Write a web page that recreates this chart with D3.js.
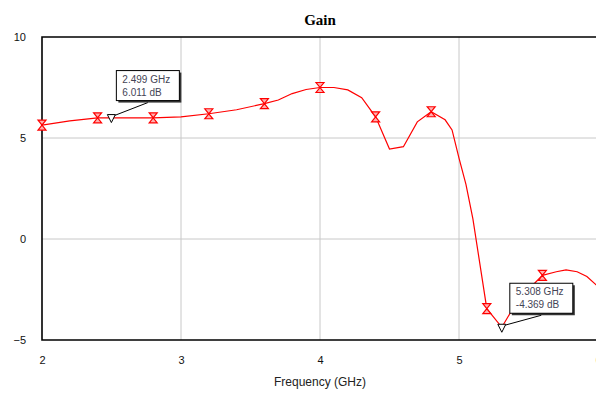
<!DOCTYPE html>
<html>
<head>
<meta charset="utf-8">
<script src="https://cdn.jsdelivr.net/npm/d3@7"></script>
<style>
body{margin:0;background:#fff;}
svg{display:block;font-family:Arial,"Liberation Sans",sans-serif;}
</style>
</head>
<body>
<div id="chart"></div>
<script>
// gain curve
var freq=[2.0,2.2,2.4,2.6,2.8,3.0,3.2,3.4,3.6,3.7,3.8,3.9,4.0,4.1,4.2,4.3,4.4,4.5,4.6,4.7,4.8,4.9,4.95,5.0,5.05,5.1,5.2,5.308,5.4,5.5,5.6,5.7,5.77,5.85,5.92,6.0];
var gain=[5.64,5.85,6.0,6.0,6.0,6.05,6.2,6.4,6.7,6.88,7.2,7.4,7.5,7.5,7.38,7.0,6.05,4.45,4.57,5.8,6.3,5.9,5.4,4.0,2.7,1.0,-3.45,-4.369,-3.3,-2.5,-1.8,-1.62,-1.53,-1.62,-1.86,-2.35];
var markerFreqs=[2.0,2.4,2.8,3.2,3.6,4.0,4.4,4.8,5.2,5.6];
var xTicks=[2,3,4,5,6];
var yTicks=[-5,0,5,10];
var notes=[{f:2.499,g:6.011,label:['2.499 GHz','6.011 dB'],dx:5,dy:-47},
           {f:5.308,g:-4.369,label:['5.308 GHz','-4.369 dB'],dx:8,dy:-44}];

var W=596,H=394;
var margin={left:42,right:-2,top:37,bottom:54};
var width=W-margin.left-margin.right, height=H-margin.top-margin.bottom;

var svg=d3.select('#chart').append('svg')
    .attr('width',W).attr('height',H);

svg.append('text')
    .attr('x',320).attr('y',25)
    .attr('text-anchor','middle')
    .style('font-family','"Liberation Serif","Times New Roman",serif')
    .style('font-weight','bold')
    .style('font-size','15px')
    .text('Gain');

var g=svg.append('g').attr('transform','translate('+margin.left+','+margin.top+')');

var x=d3.scaleLinear().domain([2,6]).range([0,width]);
var y=d3.scaleLinear().domain([-5,10]).range([height,0]);

// grid
g.selectAll('.vgrid').data(xTicks.slice(1,-1)).enter().append('line')
    .attr('x1',function(d){return x(d);}).attr('x2',function(d){return x(d);})
    .attr('y1',0).attr('y2',height)
    .attr('stroke','#c8c8c8');
g.selectAll('.hgrid').data(yTicks.slice(1,-1)).enter().append('line')
    .attr('x1',0).attr('x2',width)
    .attr('y1',function(d){return y(d);}).attr('y2',function(d){return y(d);})
    .attr('stroke','#c8c8c8');

// axes
var xAxis=d3.axisBottom(x).tickValues(xTicks).tickSize(0).tickPadding(16).tickFormat(d3.format('d'));
var yAxis=d3.axisLeft(y).tickValues(yTicks).tickSize(0).tickPadding(16).tickFormat(d3.format('d'));
var gx=g.append('g').attr('transform','translate(0,'+height+')').call(xAxis);
var gy=g.append('g').call(yAxis);
[gx,gy].forEach(function(a){
    a.select('.domain').remove();
    a.selectAll('text').style('font-size','11px').attr('fill','#111');
});

// frame
g.append('path')
    .attr('d','M'+width+',0H0V'+height+'H'+width)
    .attr('fill','none').attr('stroke','#000').attr('stroke-width',1.6);

g.append('text')
    .attr('x',320-margin.left).attr('y',height+46)
    .attr('text-anchor','middle')
    .style('font-size','12px').attr('fill','#222')
    .text('Frequency (GHz)');

g.append('clipPath').attr('id','clip').append('rect')
    .attr('width',width).attr('height',height);

var pts=freq.map(function(f,i){return {f:f,g:gain[i]};});
var line=d3.line().x(function(d){return x(d.f);}).y(function(d){return y(d.g);});
g.append('path').datum(pts)
    .attr('clip-path','url(#clip)')
    .attr('d',line)
    .attr('fill','none').attr('stroke','#ff0000').attr('stroke-width',1.2);

// hourglass markers
g.selectAll('.mk').data(markerFreqs).enter().append('path')
    .attr('transform',function(d){return 'translate('+x(d)+','+y(gain[freq.indexOf(d)])+')';})
    .attr('d','M-4,-5H4L0,0L4,5H-4L0,0Z')
    .attr('fill','#ffb0b0').attr('stroke','#ff0000').attr('stroke-width',1.2);

// marker callouts
notes.forEach(function(n){
    var px=x(n.f), py=y(n.g);
    var bx=px+n.dx, by=py+n.dy, bw=63, bh=30;
    g.append('line')
        .attr('x1',px+3).attr('y1',py-2)
        .attr('x2',bx+bw/2).attr('y2',by+bh+2)
        .attr('stroke','#000').attr('stroke-width',1);
    g.append('path')
        .attr('d','M'+(px-4)+','+(py-3)+'H'+(px+4)+'L'+px+','+(py+5)+'Z')
        .attr('fill','#fff').attr('stroke','#000').attr('stroke-width',1);
    g.append('rect').attr('x',bx+2).attr('y',by+2).attr('width',bw).attr('height',bh)
        .attr('fill','#333');
    g.append('rect').attr('x',bx).attr('y',by).attr('width',bw).attr('height',bh)
        .attr('fill','#fff').attr('stroke','#000').attr('stroke-width',1);
    g.selectAll(null).data(n.label).enter().append('text')
        .attr('x',bx+6).attr('y',function(d,i){return by+12+i*13;})
        .style('font-size','10px').attr('fill','#445')
        .text(function(d){return d;});
});
</script>
</body>
</html>
